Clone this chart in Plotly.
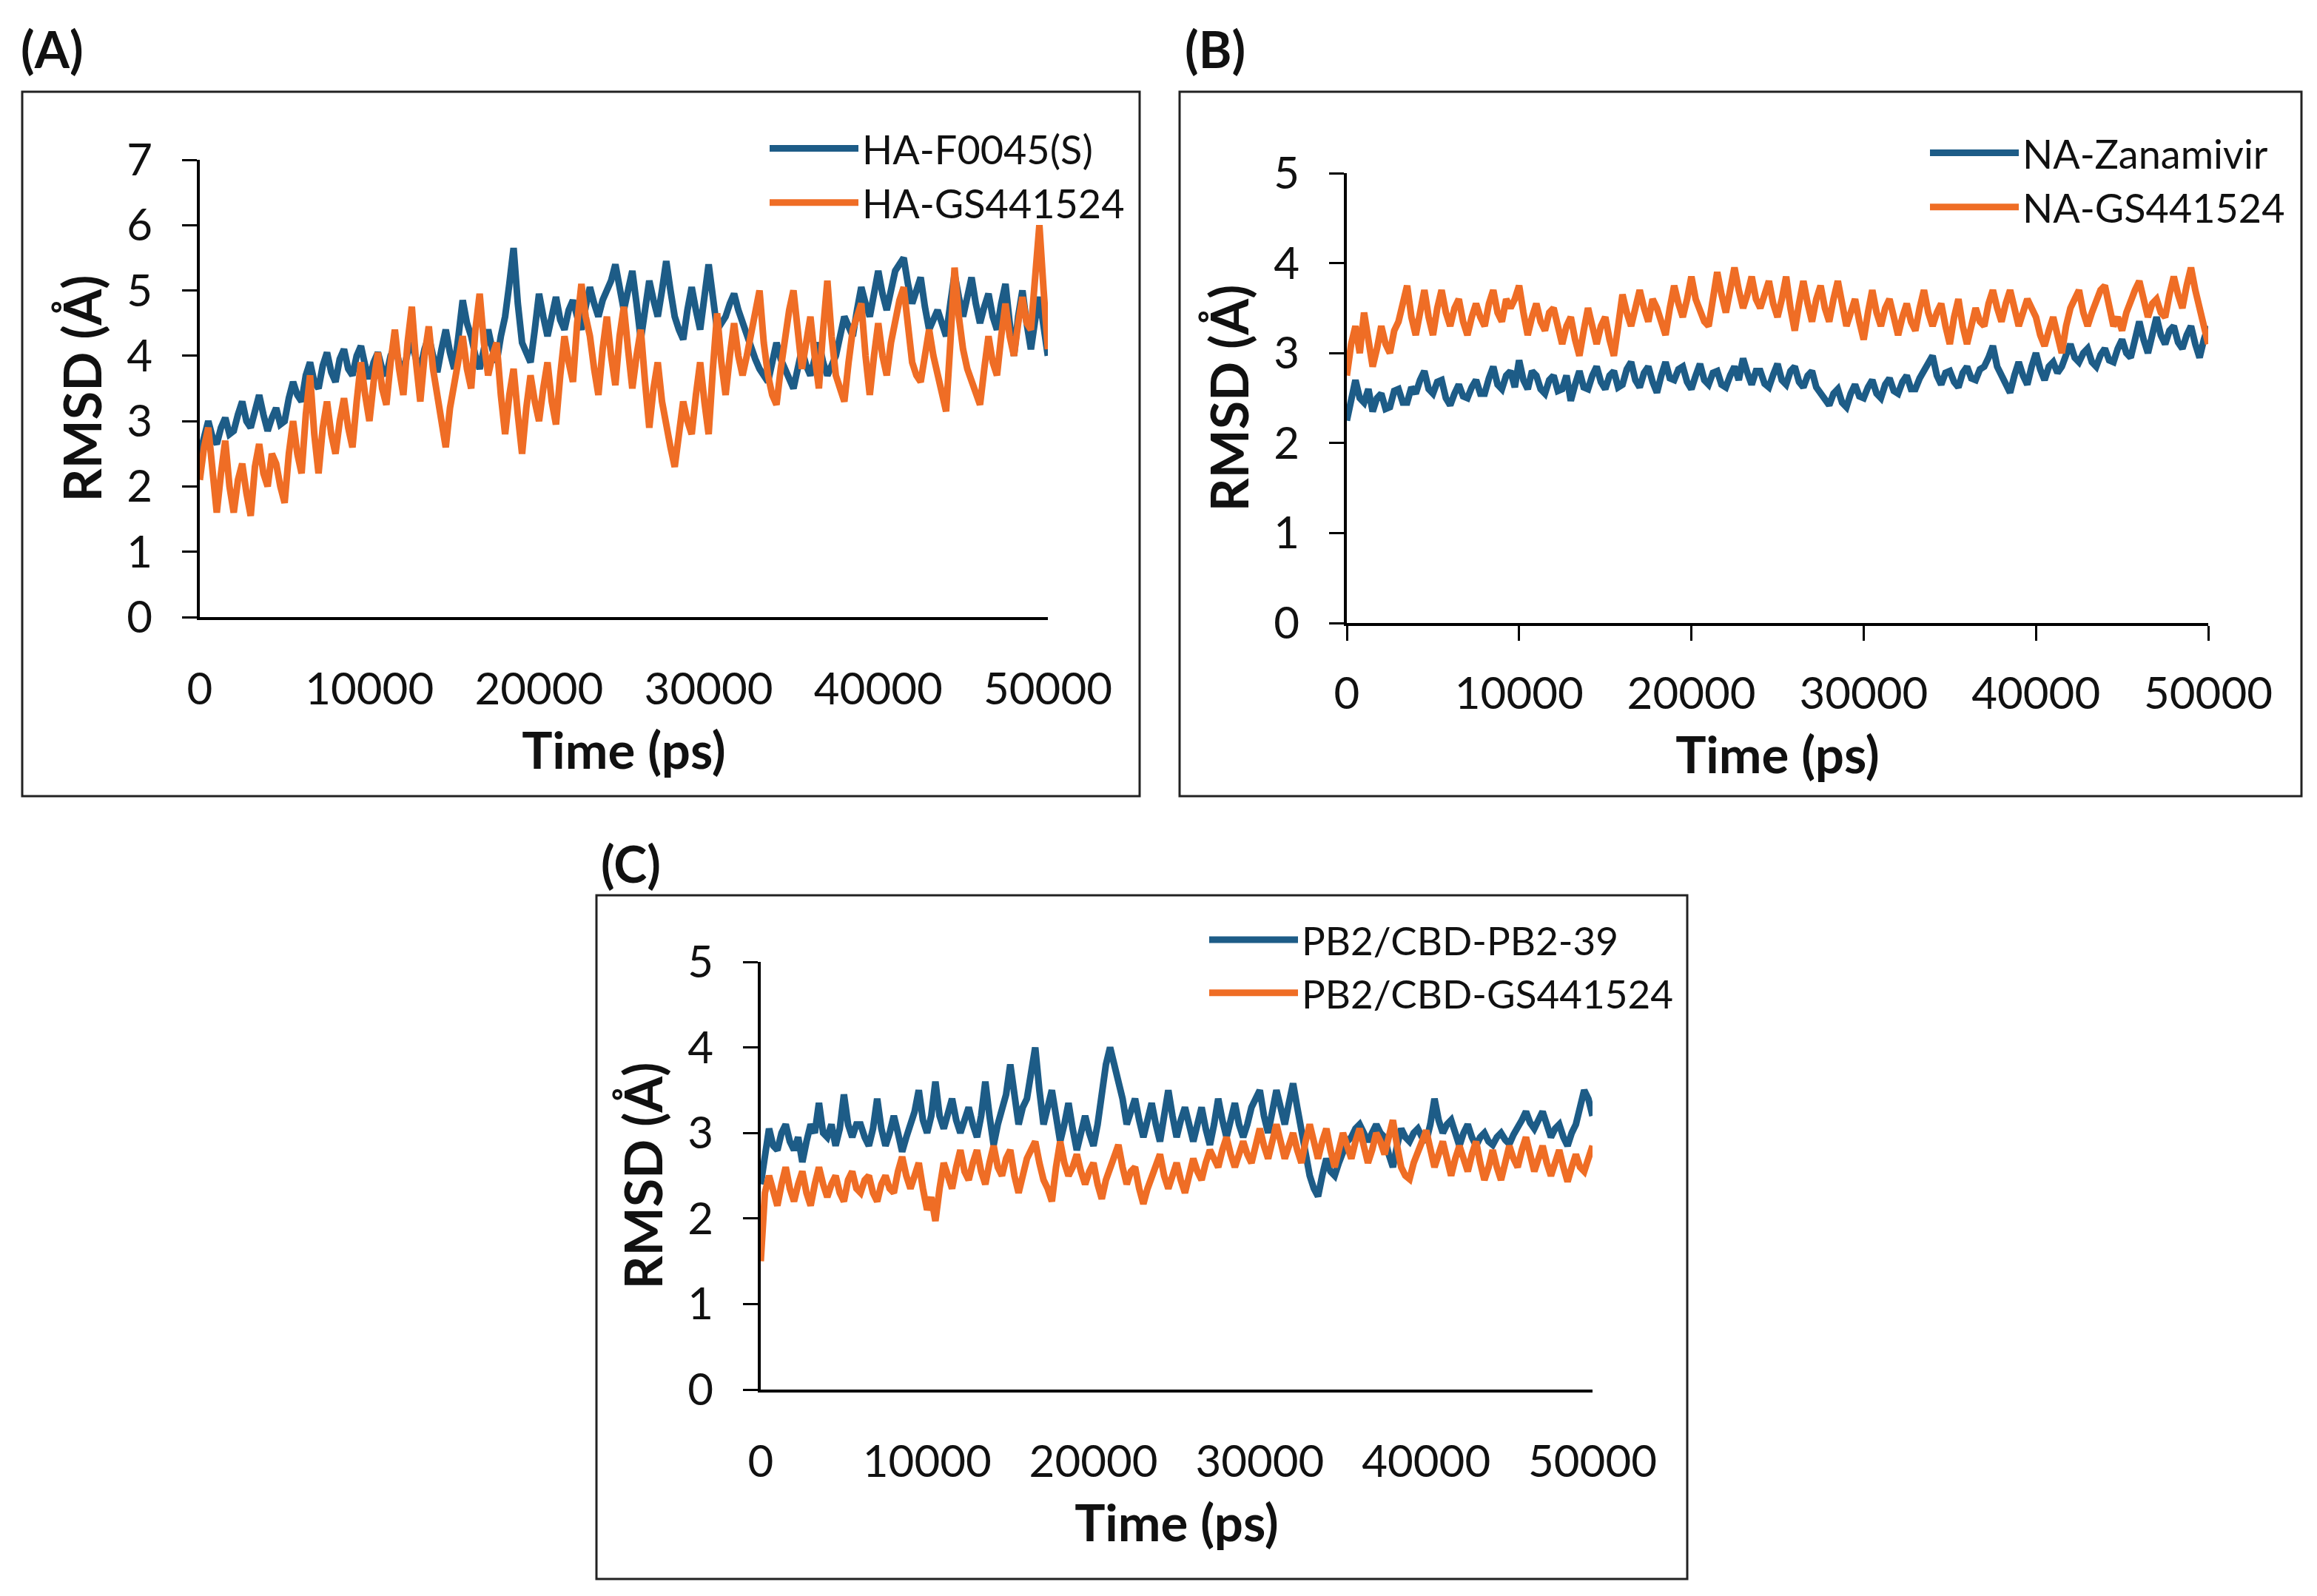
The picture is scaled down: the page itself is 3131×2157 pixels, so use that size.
import plotly.graph_objects as go

# ---------------- data (RMSD in Å, sampled every 250 ps) ----------------
time_ps = list(range(0, 50001, 250))

ha_f0045 = [
    2.5, 2.8, 3.0, 2.75, 2.65, 2.9, 3.05, 2.8, 2.85, 3.1, 3.3, 3.0, 2.9, 3.15, 3.4, 3.1, 2.85, 3.05, 3.2, 2.95,
    3.0, 3.35, 3.6, 3.4, 3.3, 3.7, 3.9, 3.6, 3.5, 3.85, 4.05, 3.75, 3.6, 3.95, 4.1, 3.8, 3.7, 4.0, 4.15, 3.85,
    3.65, 3.9, 4.05, 3.8, 3.7, 4.0, 4.15, 3.9, 3.75, 4.05, 4.2, 3.95, 3.8, 4.1, 4.3, 4.0, 3.75, 4.1, 4.4, 4.05,
    3.8, 4.3, 4.85, 4.5, 4.3, 4.0, 3.8, 4.1, 4.4, 4.1, 3.9, 4.3, 4.6, 5.1, 5.65, 4.8, 4.2, 4.05, 3.9, 4.4,
    4.95, 4.6, 4.3, 4.6, 4.9, 4.55, 4.4, 4.7, 4.85, 4.6, 4.4, 4.75, 5.05, 4.8, 4.6, 4.85, 5.0, 5.15, 5.4, 5.0,
    4.7, 5.0, 5.3, 4.8, 4.25, 4.7, 5.15, 4.85, 4.6, 5.0, 5.45, 5.0, 4.6, 4.4, 4.25, 4.7, 5.05, 4.7, 4.4, 4.9,
    5.4, 4.9, 4.4, 4.5, 4.6, 4.8, 4.95, 4.7, 4.5, 4.3, 4.1, 3.95, 3.8, 3.7, 3.6, 3.9, 4.2, 3.95, 3.8, 3.65,
    3.5, 3.8, 4.1, 3.85, 3.7, 3.95, 4.2, 3.9, 3.7, 3.85, 4.0, 4.3, 4.6, 4.45, 4.3, 4.7, 5.05, 4.8, 4.6, 4.95,
    5.3, 4.95, 4.7, 5.0, 5.3, 5.4, 5.5, 5.1, 4.8, 5.0, 5.2, 4.75, 4.4, 4.55, 4.7, 4.5, 4.3, 4.8, 5.25, 4.9,
    4.6, 4.9, 5.2, 4.8, 4.5, 4.75, 4.95, 4.6, 4.4, 4.8, 5.1, 4.5, 4.0, 4.6, 5.0, 4.5, 4.1, 4.55, 4.9, 4.45,
    4.0]
ha_gs441524 = [
    2.1, 2.6, 2.9, 2.2, 1.6, 2.2, 2.7, 2.0, 1.6, 2.1, 2.35, 1.9, 1.55, 2.3, 2.65, 2.2, 2.0, 2.5, 2.35, 2.0,
    1.75, 2.5, 3.0, 2.5, 2.2, 3.1, 3.7, 2.8, 2.2, 2.9, 3.3, 2.8, 2.5, 3.0, 3.35, 2.9, 2.6, 3.3, 3.9, 3.4,
    3.0, 3.6, 4.05, 3.5, 3.25, 3.9, 4.4, 3.8, 3.4, 4.2, 4.75, 3.9, 3.3, 4.0, 4.45, 3.8, 3.4, 3.0, 2.6, 3.2,
    3.6, 4.0, 4.3, 3.8, 3.5, 4.4, 4.95, 4.2, 3.7, 4.0, 4.2, 3.4, 2.8, 3.4, 3.8, 3.1, 2.5, 3.2, 3.7, 3.3,
    3.0, 3.5, 3.9, 3.3, 2.95, 3.7, 4.3, 3.9, 3.6, 4.5, 5.1, 4.6, 4.3, 3.8, 3.4, 4.1, 4.6, 4.0, 3.55, 4.3,
    4.75, 4.1, 3.5, 4.0, 4.4, 3.6, 2.9, 3.5, 3.9, 3.3, 2.9, 2.6, 2.3, 2.8, 3.3, 3.0, 2.8, 3.4, 3.9, 3.3,
    2.8, 3.8, 4.65, 3.9, 3.4, 4.0, 4.5, 4.0, 3.7, 4.0, 4.3, 4.7, 5.0, 4.2, 3.7, 3.4, 3.25, 3.8, 4.3, 4.7,
    5.0, 4.3, 3.8, 4.2, 4.6, 4.0, 3.5, 4.4, 5.15, 4.3, 3.7, 3.5, 3.3, 3.9, 4.4, 4.6, 4.8, 4.0, 3.4, 4.0,
    4.5, 4.0, 3.7, 4.2, 4.6, 4.85, 5.05, 4.4, 3.9, 3.7, 3.6, 4.0, 4.4, 4.0, 3.7, 3.4, 3.15, 4.2, 5.35, 4.6,
    4.1, 3.8, 3.6, 3.4, 3.25, 3.8, 4.3, 3.9, 3.7, 4.3, 4.8, 4.3, 4.0, 4.5, 4.9, 4.5, 4.4, 5.2, 6.0, 5.0,
    4.1]

na_zanamivir = [
    2.25, 2.5, 2.7, 2.5, 2.45, 2.6, 2.35, 2.5, 2.55, 2.38, 2.4, 2.58, 2.6, 2.45, 2.45, 2.62, 2.55, 2.7, 2.8, 2.6,
    2.55, 2.68, 2.7, 2.5, 2.42, 2.55, 2.65, 2.52, 2.5, 2.62, 2.7, 2.55, 2.55, 2.72, 2.85, 2.65, 2.6, 2.75, 2.8, 2.62,
    2.92, 2.7, 2.6, 2.8, 2.75, 2.6, 2.55, 2.7, 2.75, 2.58, 2.6, 2.75, 2.47, 2.65, 2.8, 2.62, 2.6, 2.75, 2.85, 2.68,
    2.6, 2.75, 2.8, 2.62, 2.65, 2.82, 2.9, 2.7, 2.62, 2.78, 2.85, 2.68, 2.56, 2.75, 2.9, 2.72, 2.7, 2.82, 2.85, 2.68,
    2.6, 2.75, 2.88, 2.7, 2.65, 2.78, 2.8, 2.65, 2.62, 2.75, 2.85, 2.7, 2.94, 2.78, 2.65, 2.8, 2.8, 2.66, 2.62, 2.76,
    2.88, 2.7, 2.65, 2.8, 2.85, 2.68, 2.62, 2.75, 2.8, 2.62, 2.55, 2.5, 2.42, 2.55, 2.6, 2.45, 2.4, 2.55, 2.65, 2.52,
    2.5, 2.62, 2.7, 2.55, 2.5, 2.65, 2.72, 2.58, 2.55, 2.68, 2.75, 2.6, 2.6, 2.72, 2.8, 2.88, 2.97, 2.75, 2.65, 2.78,
    2.8, 2.68, 2.62, 2.78, 2.85, 2.72, 2.7, 2.82, 2.85, 2.95, 3.08, 2.85, 2.75, 2.65, 2.56, 2.75, 2.9, 2.75, 2.65, 2.85,
    3.0, 2.82, 2.7, 2.85, 2.9, 2.78, 2.85, 2.98, 3.1, 2.95, 2.9, 3.0, 3.05, 2.9, 2.85, 2.98, 3.05, 2.92, 2.9, 3.05,
    3.15, 3.0, 2.95, 3.15, 3.35, 3.15, 3.0, 3.2, 3.4, 3.2, 3.1, 3.25, 3.3, 3.12, 3.05, 3.2, 3.3, 3.1, 2.95, 3.15,
    3.3]
na_gs441524 = [
    2.75, 3.1, 3.3, 3.0, 3.45, 3.15, 2.85, 3.05, 3.3, 3.1, 3.0, 3.25, 3.35, 3.55, 3.75, 3.4, 3.2, 3.45, 3.7, 3.4,
    3.2, 3.5, 3.7, 3.45, 3.3, 3.5, 3.6, 3.35, 3.2, 3.4, 3.55, 3.4, 3.3, 3.55, 3.7, 3.45, 3.35, 3.6, 3.5, 3.6,
    3.75, 3.45, 3.2, 3.4, 3.55, 3.35, 3.25, 3.45, 3.5, 3.3, 3.1, 3.3, 3.4, 3.15, 2.97, 3.25, 3.5, 3.3, 3.1, 3.3,
    3.4, 3.15, 2.97, 3.3, 3.65, 3.45, 3.3, 3.5, 3.7, 3.5, 3.35, 3.6, 3.5, 3.35, 3.2, 3.5, 3.75, 3.55, 3.4, 3.6,
    3.85, 3.6, 3.45, 3.35, 3.3, 3.6, 3.9, 3.65, 3.45, 3.7, 3.95, 3.7, 3.5, 3.65, 3.85, 3.6, 3.5, 3.65, 3.8, 3.55,
    3.4, 3.6, 3.85, 3.5, 3.25, 3.55, 3.8, 3.55, 3.35, 3.6, 3.75, 3.5, 3.35, 3.6, 3.8, 3.55, 3.3, 3.45, 3.6, 3.35,
    3.15, 3.45, 3.7, 3.45, 3.3, 3.5, 3.6, 3.4, 3.2, 3.4, 3.55, 3.35, 3.25, 3.5, 3.7, 3.45, 3.3, 3.45, 3.55, 3.3,
    3.1, 3.4, 3.6, 3.3, 3.1, 3.3, 3.5, 3.35, 3.3, 3.55, 3.7, 3.5, 3.35, 3.55, 3.7, 3.5, 3.3, 3.45, 3.6, 3.5,
    3.4, 3.2, 3.08, 3.25, 3.4, 3.2, 3.0, 3.3, 3.5, 3.6, 3.7, 3.45, 3.3, 3.45, 3.6, 3.7, 3.75, 3.5, 3.3, 3.4,
    3.25, 3.45, 3.6, 3.7, 3.8, 3.6, 3.4, 3.55, 3.6, 3.45, 3.4, 3.65, 3.85, 3.65, 3.5, 3.75, 3.95, 3.7, 3.5, 3.3,
    3.1]

pb2_39 = [
    2.4, 2.8, 3.05, 2.85, 2.8, 3.0, 3.1, 2.9, 2.8, 2.95, 2.66, 2.9, 3.1, 3.0, 3.35, 3.0, 2.95, 3.1, 2.85, 3.05,
    3.45, 3.1, 2.95, 3.1, 3.1, 2.95, 2.85, 3.05, 3.4, 3.05, 2.85, 3.0, 3.2, 3.0, 2.78, 2.95, 3.1, 3.25, 3.5, 3.15,
    3.0, 3.2, 3.6, 3.2, 3.05, 3.25, 3.4, 3.15, 3.0, 3.15, 3.3, 3.1, 2.95, 3.2, 3.6, 3.2, 2.86, 3.1, 3.3, 3.45,
    3.8, 3.4, 3.1, 3.3, 3.4, 3.7, 4.0, 3.5, 3.1, 3.3, 3.5, 3.2, 2.9, 3.1, 3.35, 3.05, 2.8, 3.0, 3.2, 3.0,
    2.85, 3.1, 3.5, 3.8, 4.0, 3.8, 3.6, 3.4, 3.1, 3.25, 3.4, 3.15, 2.95, 3.15, 3.35, 3.1, 2.9, 3.2, 3.5, 3.2,
    2.95, 3.15, 3.3, 3.1, 2.9, 3.1, 3.3, 3.05, 2.86, 3.1, 3.4, 3.15, 2.95, 3.15, 3.35, 3.1, 2.95, 3.1, 3.3, 3.4,
    3.5, 3.2, 3.0, 3.25, 3.5, 3.3, 3.1, 3.35, 3.58, 3.3, 3.0, 2.75, 2.5, 2.35, 2.26, 2.5, 2.7, 2.55, 2.5, 2.65,
    2.8, 2.9, 2.95, 3.05, 3.1, 3.0, 2.9, 3.0, 3.1, 3.0, 2.95, 2.75, 2.6, 2.85, 3.05, 2.95, 2.9, 3.0, 3.05, 2.95,
    2.9, 3.1, 3.4, 3.15, 3.0, 3.1, 3.15, 3.0, 2.85, 3.0, 3.1, 2.95, 2.85, 2.95, 3.0, 2.9, 2.86, 2.95, 3.0, 2.92,
    2.87, 2.98, 3.05, 3.15, 3.25, 3.12, 3.05, 3.15, 3.25, 3.1, 2.95, 3.05, 3.1, 2.95, 2.85, 3.0, 3.1, 3.3, 3.5, 3.4,
    3.2]
pb2_gs441524 = [
    1.5, 2.3, 2.5, 2.3, 2.15, 2.4, 2.6, 2.35, 2.2, 2.4, 2.55, 2.3, 2.15, 2.4, 2.6, 2.4, 2.25, 2.4, 2.5, 2.3,
    2.2, 2.45, 2.55, 2.35, 2.3, 2.45, 2.5, 2.3, 2.2, 2.4, 2.5, 2.35, 2.3, 2.55, 2.72, 2.5, 2.35, 2.5, 2.65, 2.35,
    2.1, 2.25, 1.97, 2.35, 2.65, 2.5, 2.35, 2.6, 2.8, 2.55, 2.45, 2.65, 2.8, 2.55, 2.4, 2.65, 2.85, 2.6, 2.5, 2.7,
    2.8, 2.5, 2.3, 2.5, 2.7, 2.8, 2.9, 2.65, 2.45, 2.35, 2.2, 2.6, 2.9, 2.65, 2.5, 2.6, 2.75, 2.55, 2.4, 2.55,
    2.65, 2.4, 2.23, 2.45, 2.6, 2.75, 2.86, 2.6, 2.4, 2.55, 2.6, 2.35, 2.17, 2.35, 2.5, 2.65, 2.75, 2.5, 2.35, 2.5,
    2.65, 2.45, 2.3, 2.5, 2.7, 2.55, 2.45, 2.65, 2.8, 2.7, 2.6, 2.8, 2.95, 2.75, 2.6, 2.75, 2.9, 2.75, 2.65, 2.85,
    3.05, 2.85, 2.7, 2.9, 3.1, 2.9, 2.7, 2.85, 3.0, 2.8, 2.65, 2.9, 3.1, 2.9, 2.7, 2.9, 3.05, 2.8, 2.6, 2.8,
    3.0, 2.85, 2.7, 2.9, 3.05, 2.85, 2.65, 2.8, 3.0, 2.9, 2.75, 2.95, 3.15, 2.85, 2.6, 2.5, 2.46, 2.65, 2.8, 2.9,
    3.03, 2.8, 2.6, 2.75, 2.9, 2.7, 2.5, 2.7, 2.85, 2.7, 2.55, 2.75, 2.9, 2.65, 2.45, 2.6, 2.8, 2.6, 2.45, 2.65,
    2.85, 2.7, 2.6, 2.8, 2.95, 2.75, 2.55, 2.7, 2.85, 2.65, 2.5, 2.65, 2.8, 2.6, 2.43, 2.6, 2.75, 2.6, 2.55, 2.7,
    2.85]

x_ticks = [0, 10000, 20000, 30000, 40000, 50000]
x_tick_labels = ["0", "10000", "20000", "30000", "40000", "50000"]
series_names = [["HA-F0045(S)", "HA-GS441524"],
                ["NA-Zanamivir", "NA-GS441524"],
                ["PB2/CBD-PB2-39", "PB2/CBD-GS441524"]]
panel_labels = ["(A)", "(B)", "(C)"]
y_max = [7, 5, 5]

for s in (ha_f0045, ha_gs441524, na_zanamivir, na_gs441524, pb2_39, pb2_gs441524):
    assert len(s) == len(time_ps), len(s)

# ---------------- styling ----------------
W, H = 3131, 2157
OFF = 8  # page body margin offset
BLUE = "#1D5C87"
ORANGE = "#EF6D25"
FONT = "Lato"
TXT = "#111111"

def px(x):  # paper x from pixel
    return (x - OFF) / W

def py(y):  # paper y from pixel (top origin)
    return 1 - (y - OFF) / H

fig = go.Figure()

panels = [
    dict(x=(270, 1416), y=(216, 834), data=(ha_f0045, ha_gs441524),
         box=(30, 124, 1540, 1076), lab=(70, 66), leg=(1035, 159, 54), xticks=""),
    dict(x=(1820, 2984), y=(234, 842), data=(na_zanamivir, na_gs441524),
         box=(1594, 124, 3110, 1076), lab=(1642, 66), leg=(2603, 165, 54), xticks="outside"),
    dict(x=(1028, 2152), y=(1300, 1878), data=(pb2_39, pb2_gs441524),
         box=(806, 1210, 2280, 2134), lab=(852, 1166), leg=(1629, 1229, 53), xticks=""),
]

for i, p in enumerate(panels):
    sfx = "" if i == 0 else str(i + 1)
    legname = "legend" + sfx
    for j, (vals, col) in enumerate(zip(p["data"], (BLUE, ORANGE))):
        fig.add_trace(go.Scatter(
            x=time_ps, y=vals, mode="lines", name=series_names[i][j],
            line=dict(color=col, width=9), xaxis="x" + sfx, yaxis="y" + sfx,
            legend=legname, showlegend=True))
    fig.layout["xaxis" + sfx] = dict(
        domain=[px(p["x"][0]), px(p["x"][1])], anchor="y" + sfx, automargin=False,
        range=[0, 50000], tickvals=x_ticks, ticktext=x_tick_labels,
        ticks=p["xticks"], ticklen=20, tickwidth=3, tickcolor="black",
        showline=True, linecolor="black", linewidth=4, showgrid=False, zeroline=False,
        tickfont=dict(family=FONT, size=60, color=TXT),
        ticklabelstandoff=42 if p["xticks"] == "" else 20,
        title=dict(text="<b>Time (ps)</b>", font=dict(family=FONT, size=69, color=TXT),
                   standoff=28))
    fig.layout["yaxis" + sfx] = dict(
        domain=[py(p["y"][1]), py(p["y"][0])], anchor="x" + sfx, automargin=False,
        range=[0, y_max[i]], dtick=1, ticks="outside", ticklen=20, tickwidth=3,
        tickcolor="black", showline=True, linecolor="black", linewidth=4,
        showgrid=False, zeroline=False,
        tickfont=dict(family=FONT, size=60, color=TXT), ticklabelstandoff=28,
        title=dict(text="<b>RMSD (Å)</b>", font=dict(family=FONT, size=70, color=TXT),
                   standoff=12))
    fig.layout[legname] = dict(
        x=px(p["leg"][0]), y=py(p["leg"][1]), xanchor="left", yanchor="top",
        bgcolor="rgba(0,0,0,0)", borderwidth=0, itemwidth=120,
        font=dict(family=FONT, size=p["leg"][2], color=TXT))
    x0, y0, x1, y1 = p["box"]
    fig.add_shape(type="rect", xref="paper", yref="paper",
                  x0=px(x0), x1=px(x1), y0=py(y1), y1=py(y0),
                  line=dict(color="#222", width=3), fillcolor="rgba(0,0,0,0)", layer="below")
    fig.add_annotation(text="<b>" + panel_labels[i] + "</b>", xref="paper", yref="paper",
                       x=px(p["lab"][0]), y=py(p["lab"][1]), xanchor="center",
                       yanchor="middle", showarrow=False,
                       font=dict(family=FONT, size=68, color=TXT))

fig.update_layout(width=W, height=H, margin=dict(l=0, r=0, t=0, b=0, autoexpand=False),
                  paper_bgcolor="white", plot_bgcolor="white")

fig.write_html("out.html")
